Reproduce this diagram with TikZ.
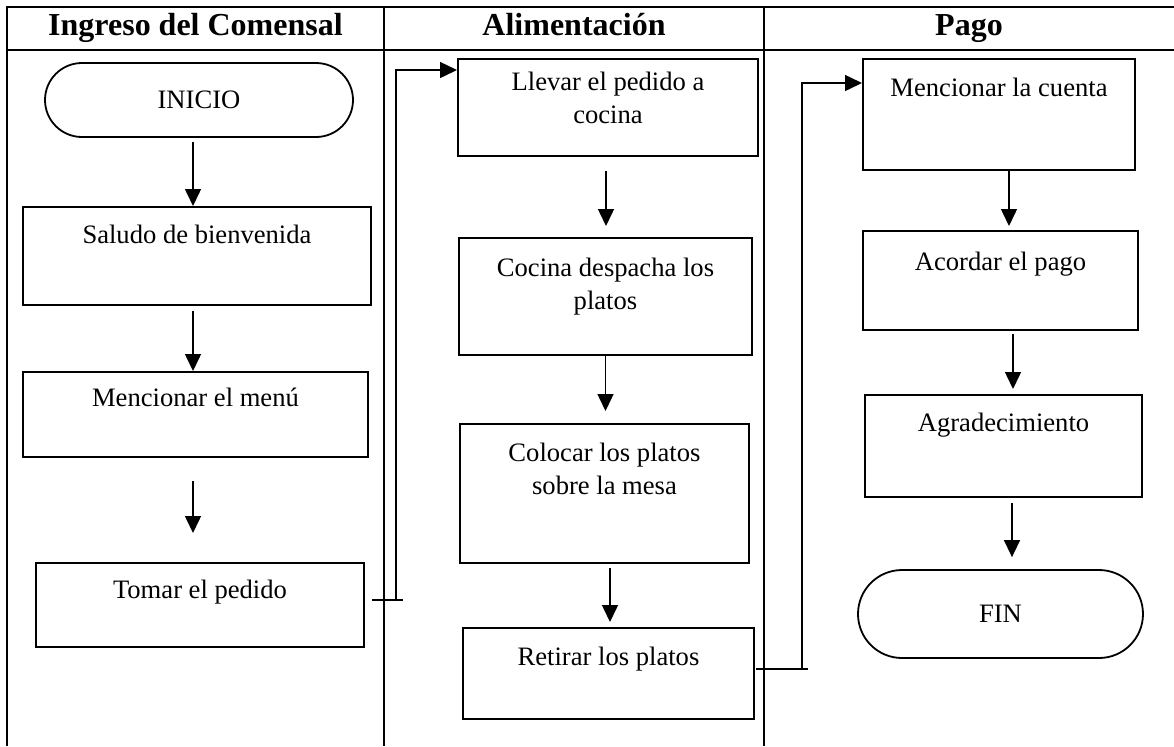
\documentclass[tikz,border=0pt]{standalone}
\usepackage{fontspec}
\setmainfont{Liberation Serif}
\usetikzlibrary{arrows.meta,shapes.misc,positioning}

% caja con texto arriba: ancho, alto, margen superior, texto
\newcommand{\caja}[4]{\parbox[c][#2][t]{#1}{\vspace*{#3}\centering #4\par}}

\tikzset{
  proceso/.style={draw,line width=1pt,inner sep=0pt,font=\fontsize{13.3}{16.5}\selectfont},
  terminal/.style={draw,rounded rectangle,line width=0.9pt,inner sep=0pt,font=\fontsize{13.3}{16.5}\selectfont},
  cabecera/.style={anchor=base,font=\fontsize{16}{19}\selectfont\bfseries},
  tabla/.style={line width=1.2pt},
  flecha/.style={line width=0.75pt,-{Triangle[width=8pt,length=8.5pt]}},
  linea/.style={line width=0.75pt}
}

\begin{document}
\begin{tikzpicture}[x=0.5pt,y=-0.5pt]
\useasboundingbox (0,0) rectangle (1174,746);
% tabla
\draw[tabla] (7,746) -- (7,7) -- (1174,7);
\draw[tabla] (7,50) -- (1174,50);
\draw[tabla] (384,7) -- (384,746);
\draw[tabla] (764,7) -- (764,746);
\node[cabecera] (h_ingreso) at (195.5,35) {Ingreso del Comensal};
\node[cabecera] (h_alim) at (574,35) {Alimentación};
\node[cabecera] (h_pago) at (969,35) {Pago};
% ingreso del comensal
\node[terminal,minimum width=154pt,minimum height=37pt] (inicio) at (199,100) {INICIO};
\node[proceso] (saludo) at (197,256) {\caja{174pt}{49pt}{9pt}{Saludo de bienvenida}};
\node[proceso] (menu) at (195.5,414.5) {\caja{172.5pt}{42.5pt}{8pt}{Mencionar el menú}};
\node[proceso] (tomar) at (200,605) {\caja{164pt}{42pt}{8.5pt}{Tomar el pedido}};
% alimentacion
\node[proceso] (llevar) at (608,107.5) {\caja{150pt}{48.5pt}{6.5pt}{Llevar el pedido a\\cocina}};
\node[proceso] (cocina) at (605.5,296.5) {\caja{146.5pt}{58.5pt}{10pt}{Cocina despacha los\\platos}};
\node[proceso] (colocar) at (604.5,493.5) {\caja{144.5pt}{69.5pt}{9.5pt}{Colocar los platos\\sobre la mesa}};
\node[proceso] (retirar) at (608.5,673.5) {\caja{145.5pt}{45.5pt}{9.5pt}{Retirar los platos}};
% pago
\node[proceso] (cuenta) at (999,114.5) {\caja{136pt}{55.5pt}{9.5pt}{Mencionar la cuenta}};
\node[proceso] (acordar) at (1000.5,280.5) {\caja{137.5pt}{49.5pt}{10.5pt}{Acordar el pago}};
\node[proceso] (agrad) at (1003.5,446) {\caja{138.5pt}{51pt}{9pt}{Agradecimiento}};
\node[terminal,minimum width=142.5pt,minimum height=44pt] (fin) at (1000.5,614) {FIN};
% flechas
\draw[flecha,shorten <=2pt] ([xshift=-3pt]inicio.south) -- ([xshift=-3pt]inicio.south |- saludo.north);
\draw[flecha,shorten <=2.5pt] ([xshift=-2pt]saludo.south) -- ([xshift=-2pt]saludo.south |- menu.north);
\draw[flecha,shorten <=11.5pt,shorten >=14.5pt] ([xshift=-1.25pt]menu.south) -- ([xshift=-1.25pt]menu.south |- tomar.north);
\draw[flecha,shorten <=7pt,shorten >=5.5pt] ([xshift=-1pt]llevar.south) -- ([xshift=-1pt]llevar.south |- cocina.north);
\draw[flecha,shorten >=6pt] (cocina.south) -- (cocina.south |- colocar.north);
\draw[flecha,shorten <=2pt,shorten >=2.5pt] ([xshift=2.75pt]colocar.south) -- ([xshift=2.75pt]colocar.south |- retirar.north);
\draw[flecha,shorten >=2pt] ([xshift=5pt]cuenta.south) -- ([xshift=5pt]cuenta.south |- acordar.north);
\draw[flecha,shorten <=1.5pt,shorten >=2.5pt] ([xshift=6.25pt]acordar.south) -- ([xshift=6.25pt]acordar.south |- agrad.north);
\draw[flecha,shorten <=2.5pt,shorten >=6pt] ([xshift=4.25pt]agrad.south) -- ([xshift=4.25pt]agrad.south |- fin.north);
% conectores entre columnas
\coordinate (q_tomar) at (396,600);
\coordinate (q_retirar) at (802,669);
\draw[linea] ([xshift=3.5pt,yshift=2.5pt]tomar.east) -- ++(15.5pt,0);
\draw[flecha] (q_tomar) |- ([yshift=18.75pt]llevar.west);
\draw[linea] ([xshift=0.5pt,yshift=2.25pt]retirar.east) -- ++(26pt,0);
\draw[flecha] (q_retirar) |- ([yshift=15.75pt]cuenta.west);
\end{tikzpicture}
\end{document}
